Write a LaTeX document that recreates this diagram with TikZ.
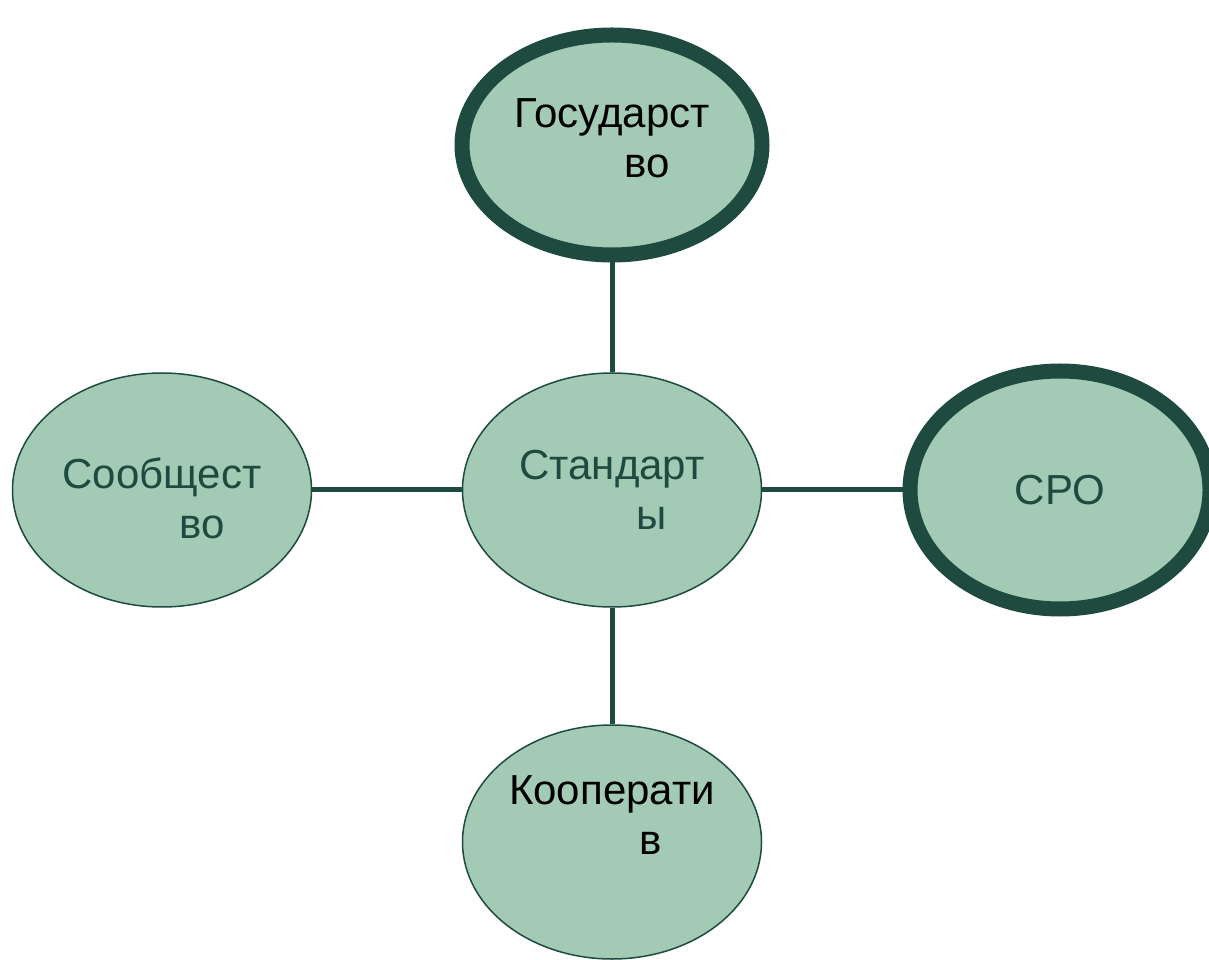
\documentclass[tikz,border=0pt]{standalone}
\usepackage{fontspec}
\setmainfont{Liberation Sans}
\usetikzlibrary{shapes.geometric}
\definecolor{darkgreen}{HTML}{1E4A3F}
\definecolor{lightgreen}{HTML}{A3CAB5}
\tikzstyle{oval}=[ellipse, draw=darkgreen, fill=lightgreen, line width=1.5pt, minimum width=299pt, minimum height=234pt, inner sep=0pt, align=left, font=\fontsize{42}{50}\selectfont]
\tikzstyle{thickoval}=[oval, line width=15pt]
\tikzstyle{link}=[draw=darkgreen, line width=5pt]

\begin{document}
\begin{tikzpicture}[x=1pt,y=1pt]
      \useasboundingbox (0,0) rectangle (1209,959);
      \node [oval, text=darkgreen] (std) at (612,469) {Стандарт\\\hspace*{117pt}ы};
      \node [oval, text=darkgreen, text height=97pt] (soc) [left of=std, node distance=450pt] {Сообщест\\\hspace*{117pt}во};
      \node [thickoval, text=darkgreen, minimum width=300pt, minimum height=238pt] (sro) [right of=std, node distance=448pt] {СРО};
      \node [thickoval, text=black, minimum width=300pt, minimum height=220pt, text height=66pt] (gos) [above of=std, node distance=345pt] {Государст\\\hspace*{110pt}во};
      \node [oval, text=black, text depth=54pt] (coop) [below of=std, node distance=352pt] {Кооперати\\\hspace*{130pt}в};
      \path[link] (gos) -- (std);
      \path[link] (soc) -- (std);
      \path[link] (std) -- (sro);
      \path[link] (std) -- (coop);
\end{tikzpicture}
\end{document}
